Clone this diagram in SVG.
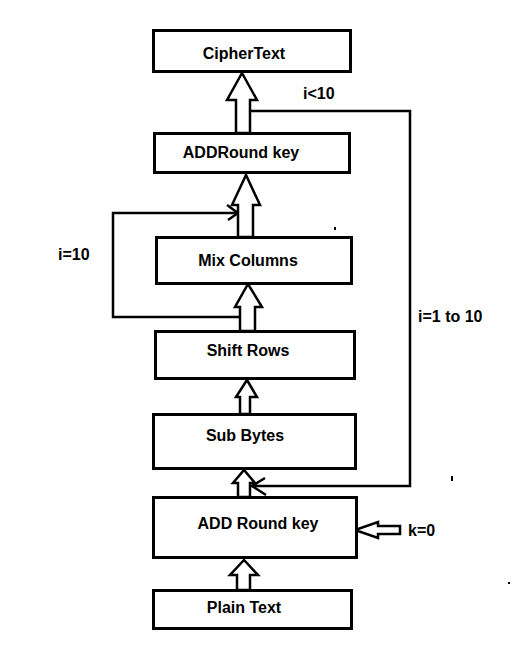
<svg xmlns="http://www.w3.org/2000/svg" width="525" height="649" viewBox="0 0 525 649">
<style>
.box{fill:#fff;stroke:#000;stroke-width:3}
.lbl{font-family:"Liberation Sans",Arial,sans-serif;font-weight:bold;font-size:16px;fill:#000;text-anchor:middle}
.note{font-family:"Liberation Sans",Arial,sans-serif;font-weight:bold;font-size:16px;fill:#000}
.blk{fill:#fff;stroke:#000;stroke-width:2.5;stroke-linejoin:miter}
.ln{fill:none;stroke:#000;stroke-width:2.5}
</style>
<rect width="525" height="649" fill="#fff"/>
<g id="connectors">
<polyline class="ln" points="250,111 410,111 410,486 252,486"/>
<polyline class="ln" points="265,478 252,486 266,495"/>
<polyline class="ln" points="240,317 113,317 113,213 238,213"/>
<polyline class="ln" points="227,205 238,213 228,220"/>
<polygon class="blk" points="237,590 237,575 230,575 244,560 258,575 250,575 250,590"/>
<polygon class="blk" points="238,497 238,483 233,483 244,470 255,483 250,483 250,497"/>
<polygon class="blk" points="240,414 240,397 236,397 247,380 257,397 250,397 250,414"/>
<polygon class="blk" points="240,331 240,307 235,307 248,284 262,307 255,307 255,331"/>
<polygon class="blk" points="238,237 238,205 232,205 246,175 260,205 253,205 253,237"/>
<polygon class="blk" points="236,133 236,100 227,100 242,73 257,100 250,100 250,133"/>
<polygon class="blk" points="400,526 378,526 378,522 355,530 378,538 378,534 400,534"/>
</g>
<g id="cipher"><rect class="box" x="153.5" y="30.5" width="197" height="41"/><text class="lbl" x="244" y="59">CipherText</text></g>
<g id="addroundkey2"><rect class="box" x="154.5" y="133.5" width="195" height="39"/><text class="lbl" x="241" y="158">ADDRound key</text></g>
<g id="mixcolumns"><rect class="box" x="156.5" y="237.5" width="195" height="46"/><text class="lbl" x="248" y="266">Mix Columns</text></g>
<g id="shiftrows"><rect class="box" x="155.5" y="331.5" width="199" height="47"/><text class="lbl" x="248" y="356">Shift Rows</text></g>
<g id="subbytes"><rect class="box" x="153.5" y="414.5" width="202" height="54"/><text class="lbl" x="245" y="441">Sub Bytes</text></g>
<g id="addroundkey1"><rect class="box" x="153.5" y="497.5" width="203" height="60"/><text class="lbl" x="258" y="529">ADD Round key</text></g>
<g id="plaintext"><rect class="box" x="153.5" y="590.5" width="198" height="38"/><text class="lbl" x="244" y="613">Plain Text</text></g>
<g id="labels">
<text class="note" x="303" y="99">i&lt;10</text>
<text class="note" x="58" y="260">i=10</text>
<text class="note" x="418" y="322">i=1 to 10</text>
<text class="note" x="408" y="536">k=0</text>
</g>
<g id="marks">
<rect x="334" y="227" width="2" height="3" fill="#000"/>
<rect x="451" y="476" width="2" height="5" fill="#000"/>
<rect x="508" y="582" width="2" height="2" fill="#000"/>
</g>
</svg>
